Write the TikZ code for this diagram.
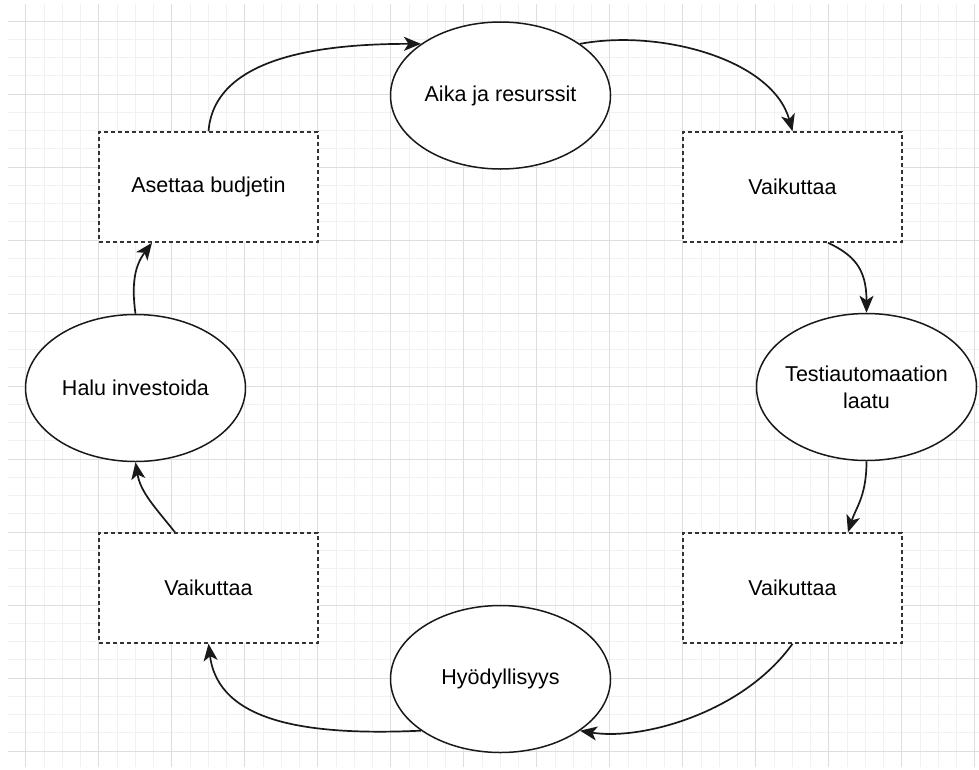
\documentclass[tikz,border=0pt]{standalone}
\usepackage{fontspec}
\setmainfont{Liberation Sans}
\usetikzlibrary{shapes.geometric,arrows.meta}
\definecolor{minorgrid}{RGB}{241,241,241}
\definecolor{majorgrid}{RGB}{222,222,222}
\definecolor{dashcol}{RGB}{51,51,51}
\tikzset{
  txt/.style={font=\fontsize{21.5}{27}\selectfont, align=center, text=black},
  boxnode/.style={draw=dashcol, line width=1.5pt, dash pattern=on 4pt off 3pt, fill=white,
    minimum width=219pt, minimum height=110pt, inner sep=0pt, txt},
  ellnode/.style={ellipse, draw=black!90, line width=1.5pt, fill=white,
    minimum width=220pt, minimum height=147pt, inner sep=0pt},
  conn/.style={draw=black!90, line width=1.7pt, -{Stealth[length=17pt,width=14pt,inset=4.5pt]}},
}
\begin{document}
\begin{tikzpicture}[x=1pt,y=-1pt]
\useasboundingbox (0,0) rectangle (979,769);
\fill[white] (0,0) rectangle (979,769);
\begin{scope}
\clip (8,4) rectangle (979,766);
\foreach \k in {0,...,53} {\draw[minorgrid, line width=1pt] (7.5+18.25*\k,0) -- (7.5+18.25*\k,769);}
\foreach \k in {0,...,42} {\draw[minorgrid, line width=1pt] (0,2.75+18.25*\k) -- (979,2.75+18.25*\k);}
\foreach \k in {0,...,13} {\draw[majorgrid, line width=1pt] (25.75+73*\k,0) -- (25.75+73*\k,769);}
\foreach \k in {0,...,10} {\draw[majorgrid, line width=1pt] (0,21+73*\k) -- (979,21+73*\k);}
\end{scope}

\node[boxnode] (asettaa) at (208.5,187) {Asettaa budjetin};
\node[boxnode] (vaik1) at (792.5,187) {Vaikuttaa};
\node[boxnode] (vaik2) at (792.5,588) {Vaikuttaa};
\node[boxnode] (vaik3) at (208.5,588) {Vaikuttaa};

\node[ellnode, label={[txt, name=aikaT]center:Aika ja resurssit}] (aika) at (500.5,95.5) {};
\node[ellnode, label={[txt, name=testiT]center:Testiautomaation\\laatu}] (testi) at (866.5,387) {};
\node[ellnode, label={[txt, name=hyodT]center:Hyödyllisyys}] (hyod) at (500.5,679) {};
\node[ellnode, label={[txt, name=haluT]center:Halu investoida}] (halu) at (135.5,388) {};

\draw[conn] (asettaa.north) .. controls +(6,-77) and +(-92,0) .. (aika.147);
\draw[conn] (aika.33) .. controls +(80,-15) and +(-20,-72) .. (vaik1.north);
\draw[conn] ([xshift=35.5pt]vaik1.south) .. controls +(25,12) and +(0,-45) .. (testi.north);
\draw[conn] (testi.south) .. controls +(0,35) and +(8,-25) .. ([xshift=55.5pt]vaik2.north);
\draw[conn] (vaik2.south) .. controls +(-50,70) and +(60,10) .. (hyod.-33);
\draw[conn] (hyod.213) .. controls +(-110,5) and +(10,80) .. (vaik3.south);
\draw[conn] ([xshift=-33.5pt]vaik3.north) .. controls +(-20,-25) and +(5,30) .. (halu.south);
\draw[conn] (halu.north) .. controls +(-5,-35) and +(-15,20) .. ([xshift=-56.5pt]asettaa.south);
\end{tikzpicture}
\end{document}
